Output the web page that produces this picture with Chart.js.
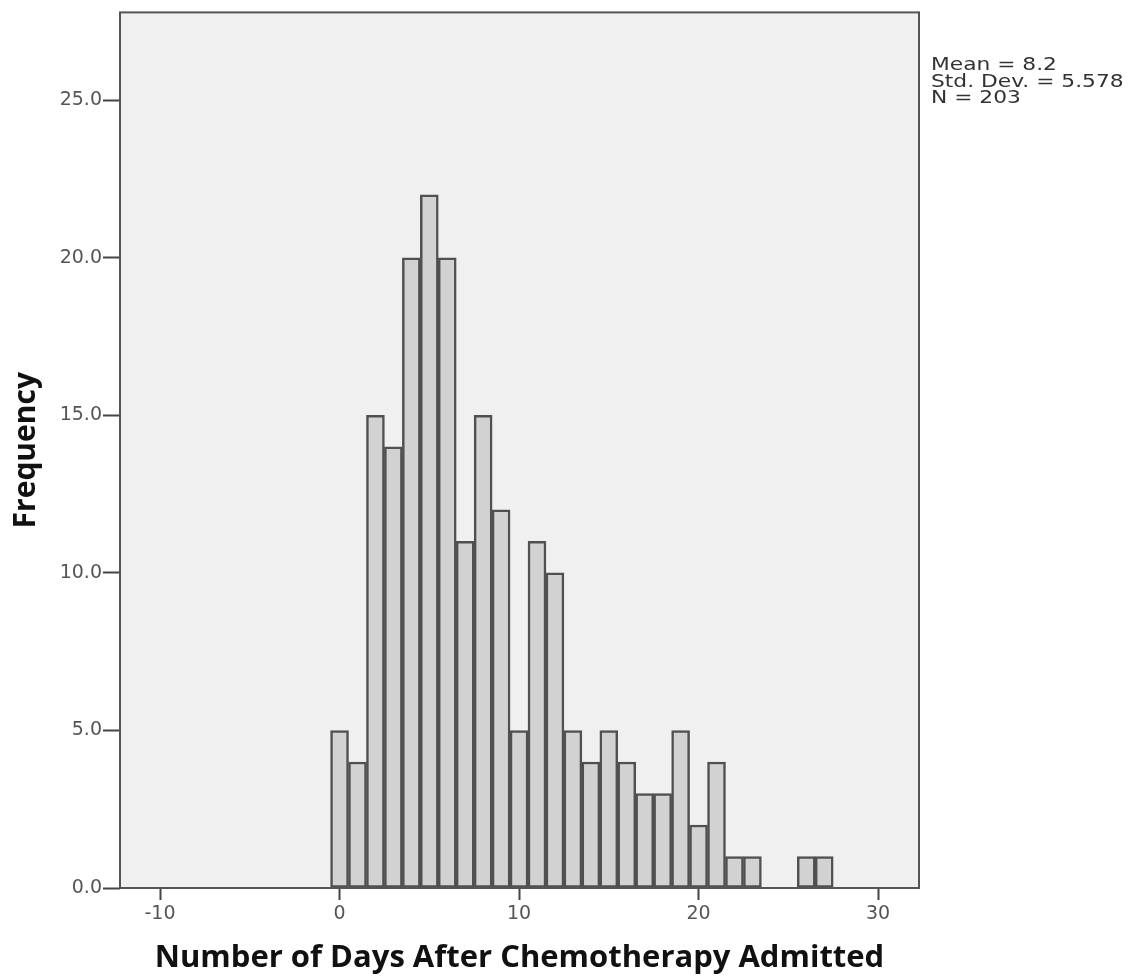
<!DOCTYPE html>
<html>
<head>
<meta charset="utf-8">
<script src="https://cdn.jsdelivr.net/npm/chart.js@4/dist/chart.umd.min.js"></script>
<style>
  html, body { margin: 0; padding: 0; background: #fff; }
  #wrap { width: 1130px; height: 979px; position: relative; }
</style>
</head>
<body>
<div id="wrap"><canvas id="hist"></canvas></div>
<script>
// ─── DATA ────────────────────────────────────────────────
const days = [0, 1, 2, 3, 4, 5, 6, 7, 8, 9, 10, 11, 12, 13, 14, 15, 16, 17, 18, 19, 20, 21, 22, 23, 24, 25, 26, 27];
const freq = [5, 4, 15, 14, 20, 22, 20, 11, 15, 12, 5, 11, 10, 5, 4, 5, 4, 3, 3, 5, 2, 4, 1, 1, 0, 0, 1, 1];
const statLines = ['Mean = 8.2', 'Std. Dev. = 5.578', 'N = 203'];
const xTitle = 'Number of Days After Chemotherapy Admitted';
const yTitle = 'Frequency';

// ─── PLUGINS ─────────────────────────────────────────────
const plotFrame = {
  id: 'plotFrame',
  beforeDraw(chart) {
    const { ctx, chartArea: a } = chart;
    ctx.save();
    ctx.fillStyle = '#f0f0f0';
    ctx.fillRect(a.left, a.top, a.right - a.left, a.bottom - a.top);
    ctx.restore();
  },
  afterDraw(chart) {
    const { ctx, chartArea: a } = chart;
    ctx.save();
    ctx.strokeStyle = '#555';
    ctx.lineWidth = 2;
    ctx.strokeRect(a.left, a.top, a.right - a.left, a.bottom - a.top);
    // stats box (text in the reference is a bit wide, so stretch it)
    ctx.fillStyle = '#333';
    ctx.font = '17px "DejaVu Sans"';
    ctx.textBaseline = 'alphabetic';
    ctx.translate(a.right + 12, 0);
    ctx.scale(1.28, 1);
    statLines.forEach((s, i) => ctx.fillText(s, 0, a.top + 58 + i * 16.5));
    ctx.restore();
  }
};

// ─── CHART ───────────────────────────────────────────────
new Chart(document.getElementById('hist'), {
  type: 'bar',
  data: {
    datasets: [{
      data: days.map((d, i) => ({ x: d, y: freq[i] })),
      backgroundColor: '#d2d2d2',
      borderColor: '#505050',
      borderWidth: 2.5,
      borderSkipped: false,
      barPercentage: 1,
      categoryPercentage: 1
    }]
  },
  options: {
    responsive: true,
    maintainAspectRatio: false,
    animation: false,
    layout: { padding: { top: 12, right: 211, left: 0, bottom: 0 } },
    plugins: { legend: { display: false }, tooltip: { enabled: false } },
    scales: {
      x: {
        type: 'linear',
        offset: false,
        min: -12.23,
        max: 32.28,
        afterFit(s) { s.height = 91; },
        grid: { offset: false, drawOnChartArea: false, tickLength: 12, tickColor: '#444', tickWidth: 2 },
        border: { display: false },
        ticks: {
          stepSize: 10,
          includeBounds: false,
          color: '#555',
          font: { family: 'DejaVu Sans', size: 19 },
          padding: 3
        },
        title: {
          display: true,
          text: xTitle,
          color: '#111',
          font: { family: 'Open Sans', size: 31, weight: 'bold' },
          padding: { top: 0, bottom: 2 }
        }
      },
      y: {
        min: 0,
        max: 27.79,
        afterFit(s) { s.width = 120; },
        grid: { drawOnChartArea: false, tickLength: 17, tickColor: '#444', tickWidth: 2 },
        border: { display: false },
        ticks: {
          stepSize: 5,
          includeBounds: false,
          color: '#555',
          font: { family: 'DejaVu Sans', size: 19 },
          padding: 1,
          callback: v => v.toFixed(1)
        },
        title: {
          display: true,
          text: yTitle,
          color: '#111',
          font: { family: 'Open Sans', size: 30, weight: 'bold' },
          padding: { top: 8, bottom: 0 }
        }
      }
    }
  },
  plugins: [plotFrame]
});
</script>
</body>
</html>
